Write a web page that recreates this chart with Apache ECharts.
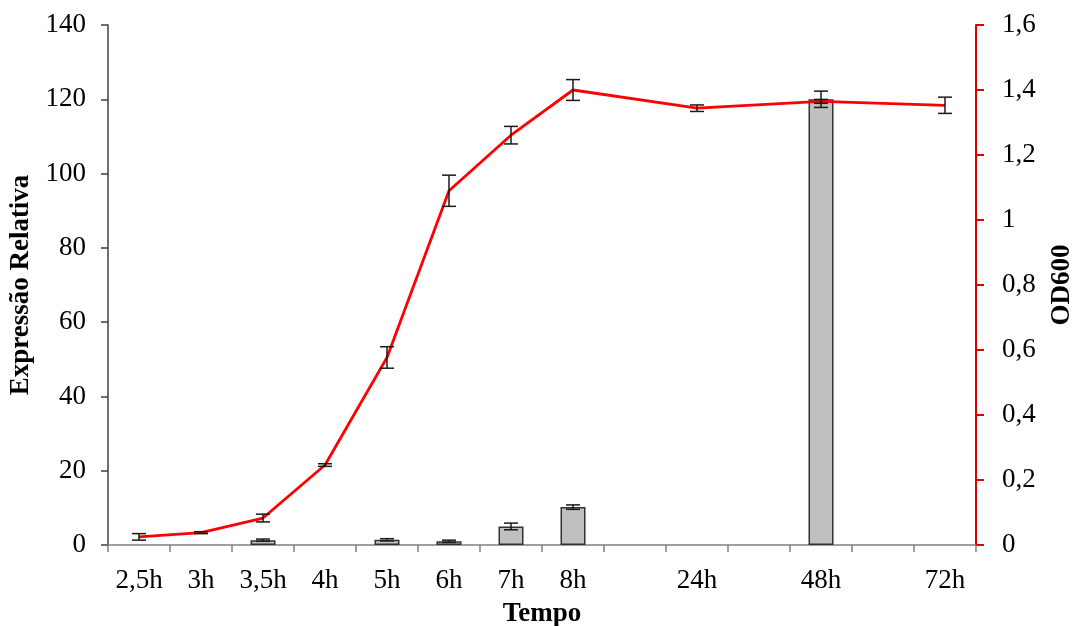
<!DOCTYPE html>
<html>
<head>
<meta charset="utf-8">
<script src="https://cdn.jsdelivr.net/npm/echarts@6/dist/echarts.min.js"></script>
<style>html,body{margin:0;padding:0;background:#fff}#chart{width:1075px;height:626px}</style>
</head>
<body>
<div id="chart"></div>
<script>
// Categories (blank entries are the empty slots between the late time points)
const categories = ['2,5h','3h','3,5h','4h','5h','6h','7h','8h','','24h','','48h','','72h'];
// Relative expression (bars, left axis)
const expressao = [null,null,1.3,null,1.4,1.0,5.0,10.2,null,null,null,120.0,null,null];
const expressaoErr = [null,null,0.3,null,0.3,0.3,0.9,0.6,null,null,null,2.2,null,null];
// OD600 (line, right axis)
const od600 = [0.025,0.038,0.083,0.246,0.577,1.090,1.261,1.400,null,1.344,null,1.365,null,1.353];
const od600Err = [0.010,0.003,0.012,0.004,0.033,0.048,0.027,0.032,null,0.010,null,0.006,null,0.025];
// Axis ticks
const leftTicks = [0,20,40,60,80,100,120,140];
const rightTicks = [0,0.2,0.4,0.6,0.8,1.0,1.2,1.4,1.6];

const FONT = "'Liberation Serif','Times New Roman',serif";
const FS = 27;

function errData(vals, errs) {
  const out = [];
  vals.forEach((v, i) => {
    if (v != null && errs[i] != null) out.push([i, v - errs[i], v + errs[i]]);
  });
  return out;
}
function errRender(params, api) {
  const x = api.value(0);
  const lo = api.coord([x, api.value(1)]);
  const hi = api.coord([x, api.value(2)]);
  const half = 7;
  const style = { stroke: '#1a1a1a', lineWidth: 1.5, fill: null };
  return {
    type: 'group',
    children: [
      { type: 'line', shape: { x1: lo[0], y1: lo[1], x2: hi[0], y2: hi[1] }, style },
      { type: 'line', shape: { x1: lo[0] - half, y1: lo[1], x2: lo[0] + half, y2: lo[1] }, style },
      { type: 'line', shape: { x1: hi[0] - half, y1: hi[1], x2: hi[0] + half, y2: hi[1] }, style }
    ]
  };
}

const chart = echarts.init(document.getElementById('chart'), null, { renderer: 'canvas' });
chart.setOption({
  animation: false,
  backgroundColor: '#ffffff',
  textStyle: { fontFamily: FONT },
  grid: { left: 108, right: 99, top: 25, bottom: 81, containLabel: false, outerBoundsMode: 'none' },
  xAxis: {
    type: 'category',
    data: categories,
    boundaryGap: true,
    name: 'Tempo',
    nameLocation: 'middle',
    nameGap: 56,
    nameTextStyle: { fontFamily: FONT, fontSize: FS, fontWeight: 'bold', color: '#000' },
    axisLine: { show: true, lineStyle: { color: '#808080', width: 1.5 } },
    axisTick: { show: true, interval: 0, length: 7, alignWithLabel: false, lineStyle: { color: '#808080', width: 1.5 } },
    axisLabel: { interval: 0, margin: 22, fontFamily: FONT, fontSize: FS, color: '#000' },
    splitLine: { show: false }
  },
  yAxis: [
    {
      type: 'value',
      min: leftTicks[0],
      max: leftTicks[leftTicks.length - 1],
      interval: leftTicks[1] - leftTicks[0],
      name: 'Expressão Relativa',
      nameLocation: 'middle',
      nameGap: 65,
      nameRotate: 90,
      nameTextStyle: { fontFamily: FONT, fontSize: FS, fontWeight: 'bold', color: '#000' },
      axisLine: { show: true, lineStyle: { color: '#404040', width: 1.5 } },
      axisTick: { show: true, length: 7, lineStyle: { color: '#404040', width: 1.5 } },
      axisLabel: { margin: 22, fontFamily: FONT, fontSize: FS, color: '#000' },
      splitLine: { show: false }
    },
    {
      type: 'value',
      position: 'right',
      min: rightTicks[0],
      max: rightTicks[rightTicks.length - 1],
      interval: 0.2,
      name: 'OD600',
      nameLocation: 'middle',
      nameGap: 73,
      nameRotate: 90,
      nameTextStyle: { fontFamily: FONT, fontSize: FS, fontWeight: 'bold', color: '#000' },
      axisLine: { show: true, lineStyle: { color: '#e00000', width: 2 } },
      axisTick: { show: true, length: 8, lineStyle: { color: '#e00000', width: 2 } },
      axisLabel: {
        margin: 26, fontFamily: FONT, fontSize: FS, color: '#000',
        formatter: v => String(Math.round(v * 10) / 10).replace('.', ',')
      },
      splitLine: { show: false }
    }
  ],
  series: [
    {
      name: 'Expressão Relativa',
      type: 'bar',
      yAxisIndex: 0,
      data: expressao,
      barWidth: 25,
      itemStyle: { color: '#c0c0c0', borderColor: '#333333', borderWidth: 1.5 },
      z: 2
    },
    {
      name: 'OD600',
      type: 'line',
      yAxisIndex: 1,
      data: od600,
      connectNulls: true,
      showSymbol: false,
      symbol: 'none',
      lineStyle: { color: '#ff0000', width: 2.8 },
      z: 3
    },
    {
      type: 'custom',
      yAxisIndex: 0,
      renderItem: errRender,
      data: errData(expressao, expressaoErr),
      encode: { x: 0, y: [1, 2] },
      z: 4
    },
    {
      type: 'custom',
      yAxisIndex: 1,
      renderItem: errRender,
      data: errData(od600, od600Err),
      encode: { x: 0, y: [1, 2] },
      z: 4
    }
  ]
});
</script>
</body>
</html>
